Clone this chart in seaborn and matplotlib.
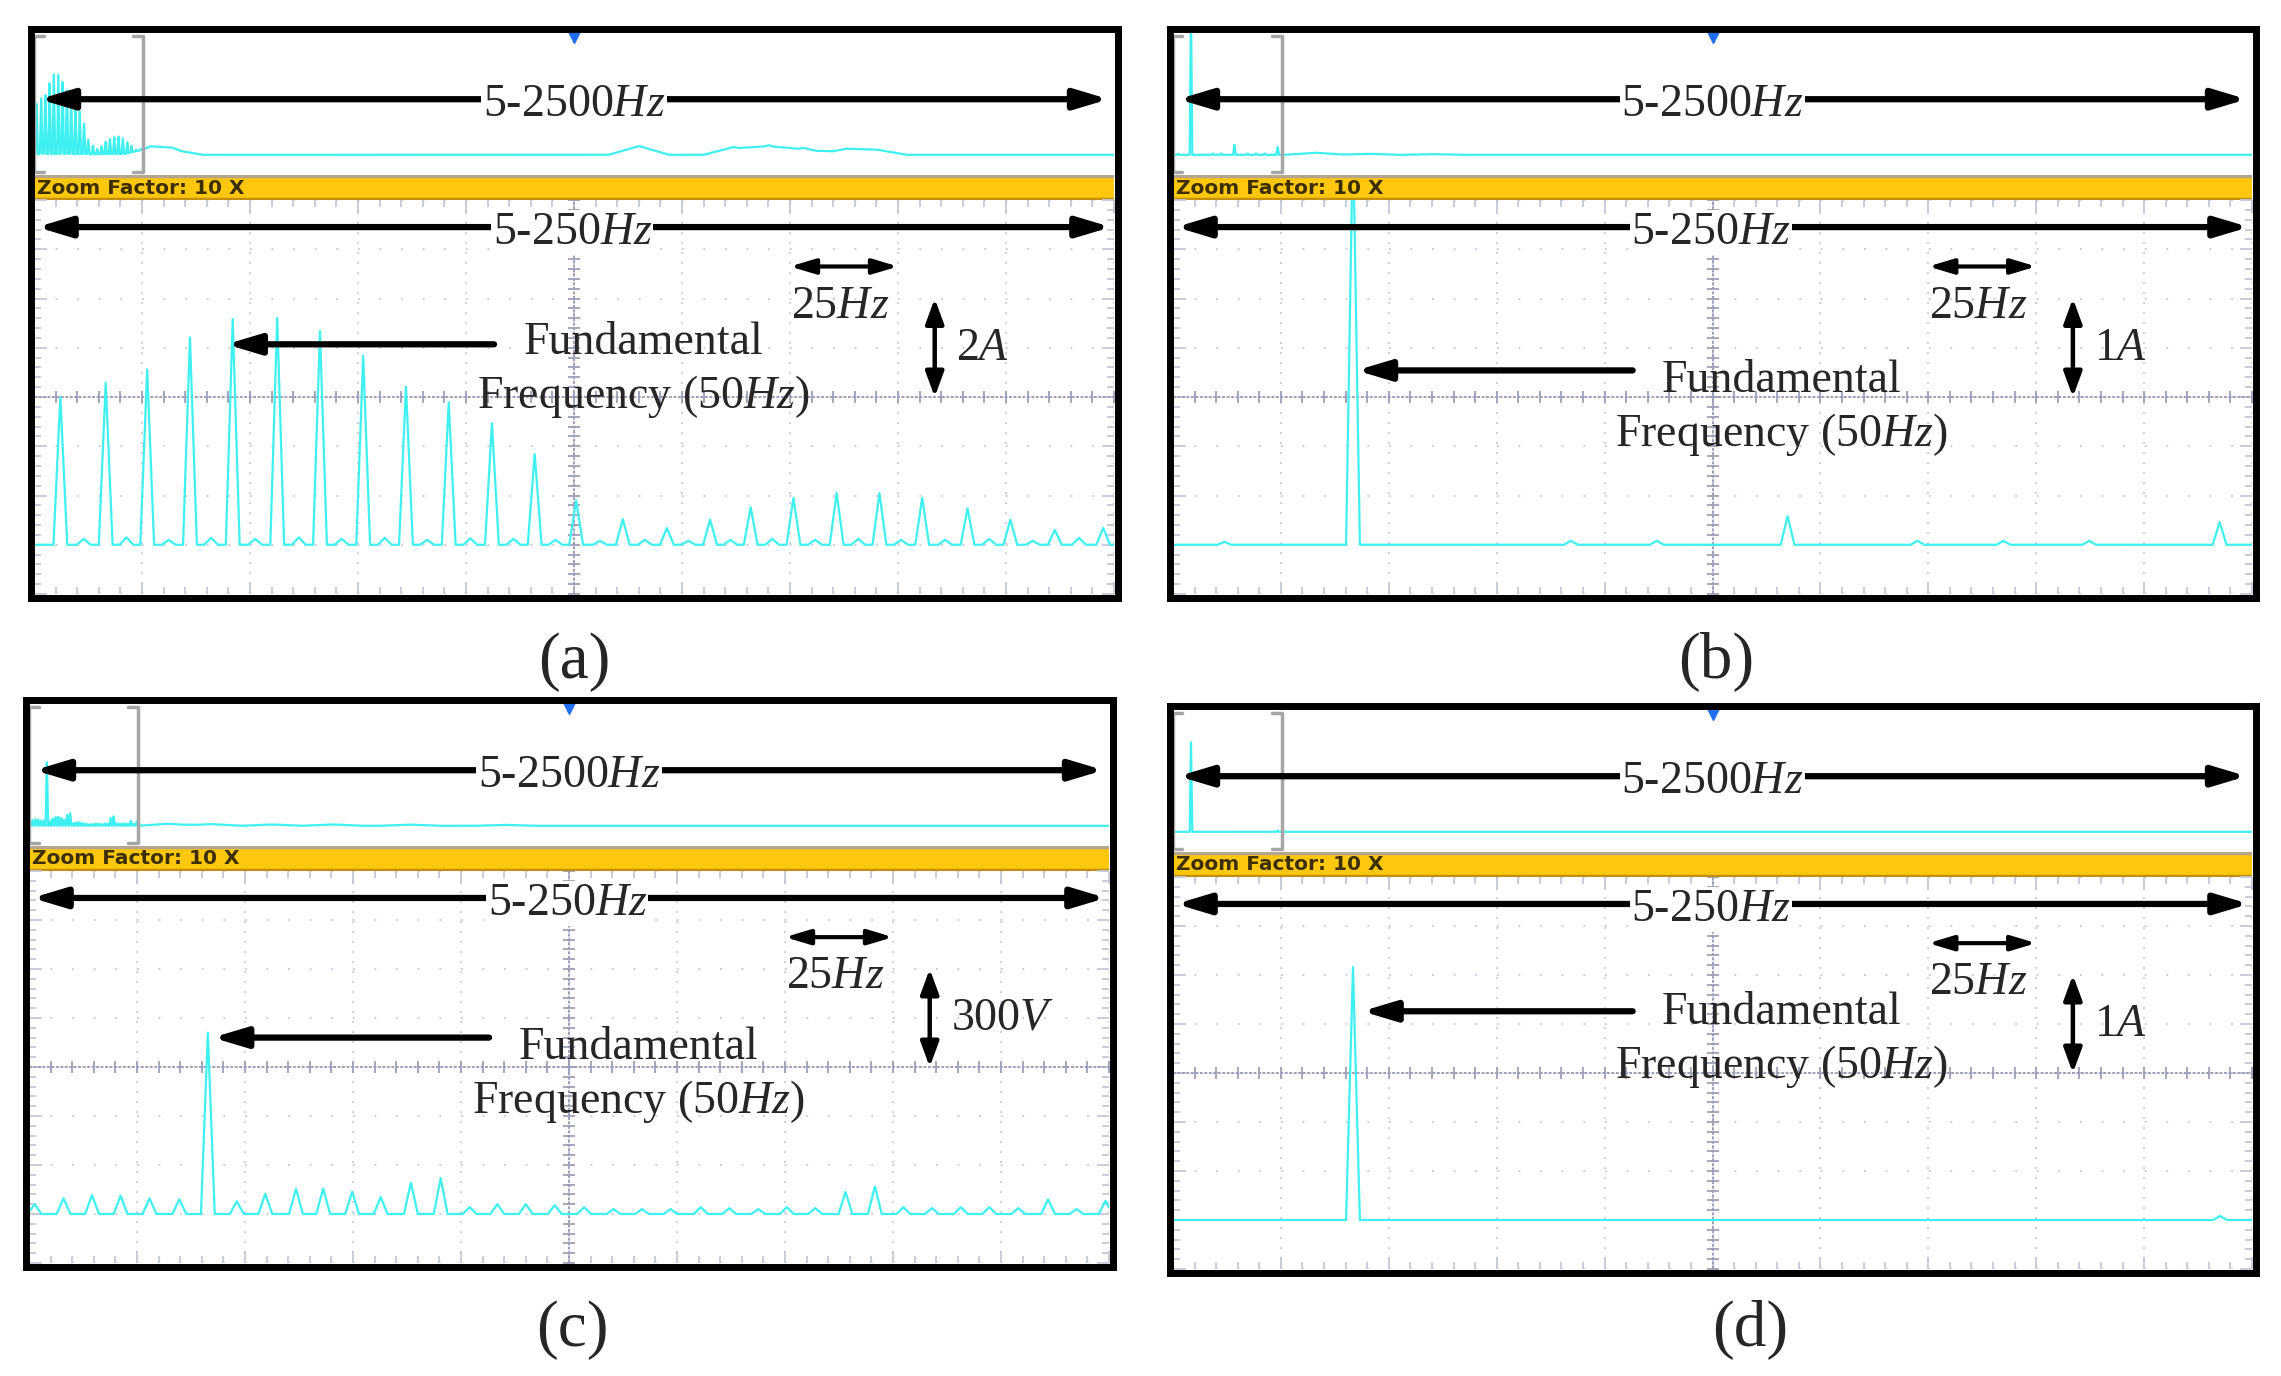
import numpy as np
import matplotlib.pyplot as plt
import matplotlib.transforms as mtransforms
from matplotlib.ticker import MultipleLocator
import seaborn as sns

# Spectrum readings from the four analyser screens.
# Zoomed window: 0-250 Hz across 10 divisions; amplitudes in the unit of each panel.
a_freqs = [6.1, 16.6, 26.2, 36.1, 46.0, 56.3, 66.2, 76.2, 86.1, 96.0, 106.0, 115.9, 125.5,
           136.3, 146.5, 156.5, 165.9, 175.8, 185.8, 195.7, 205.6, 216.1, 226.0, 236.3, 247.5]
a_amps = [3.0, 3.29, 3.56, 4.21, 4.58, 4.61, 4.34, 3.84, 3.21, 2.89, 2.47, 1.84, 0.9,
          0.52, 0.34, 0.51, 0.76, 0.95, 1.05, 1.05, 0.95, 0.74, 0.51, 0.30, 0.34]
# small bumps between the harmonics of (a)
a_minor_freqs = [11.5, 21.4, 31.2, 41.0, 51.2, 61.3, 71.2, 81.2, 91.0, 101.0, 111.0, 120.7,
                 131.0, 141.4, 151.5, 161.2, 170.9, 180.8, 190.8, 200.7, 210.9, 221.1, 231.2, 241.9]
a_minor_amps = [0.12, 0.15, 0.10, 0.14, 0.12, 0.15, 0.12, 0.14, 0.10, 0.13, 0.12, 0.10,
                0.08, 0.10, 0.08, 0.10, 0.12, 0.10, 0.12, 0.10, 0.10, 0.12, 0.08, 0.14]

b_freqs = [11.9, 41.7, 92.2, 112.1, 142.4, 172.5, 192.4, 212.3, 242.5]
b_amps = [0.03, 4.2, 0.04, 0.04, 0.29, 0.04, 0.04, 0.04, 0.23]

c_freqs = [1.3, 8.0, 14.6, 21.2, 27.9, 34.8, 41.4, 48.1, 54.7, 61.8, 68.1, 74.8, 81.4, 88.4,
           95.3, 102.0, 108.4, 115.0, 121.7, 128.5, 135.3, 141.9, 148.5, 155.5, 162.1, 168.8,
           175.4, 182.0, 189.0, 195.8, 202.4, 209.0, 215.7, 222.3, 229.0, 235.9, 242.5, 249.2]
c_amps = [30, 48, 58, 56, 48, 45, 555, 39, 62, 77, 78, 68, 52, 96,
          110, 21, 30, 30, 27, 21, 15, 15, 15, 21, 18, 15,
          21, 18, 68, 84, 21, 18, 21, 21, 18, 45, 15, 40]

d_freqs = [41.7, 242.6]
d_amps = [2.58, 0.04]

# where the "Fundamental" arrow points on each zoomed screen (Hz)
fund_arrow_tip = [44.5, 42.5, 42.5, 43.8]

# content of the 5-2500 Hz overview strips outside the zoomed window
a_ov_freqs = [270, 320, 1400, 1620, 1700, 1780, 1880, 1950]
a_ov_amps = [0.4, 0.3, 0.5, 0.45, 0.55, 0.4, 0.35, 0.3]
b_ov_freqs = [330, 450, 600]
b_ov_amps = [0.06, 0.03, 0.02]
c_ov_freqs = [320, 420, 560, 700, 880, 1100]
c_ov_amps = [18, 15, 12, 12, 10, 8]
d_ov_freqs = []
d_ov_amps = []

panel_labels = ['(a)', '(b)', '(c)', '(d)']
unit_labels = ['2$\\mathit{A}$', '1$\\mathit{A}$', '300$\\mathit{V}$', '1$\\mathit{A}$']
units_per_div = [1.0, 0.5, 150.0, 0.5]

main_f = [a_freqs + a_minor_freqs, b_freqs, c_freqs, d_freqs]
main_a = [a_amps + a_minor_amps, b_amps, c_amps, d_amps]
ov_f = [a_ov_freqs, b_ov_freqs, c_ov_freqs, d_ov_freqs]
ov_a = [a_ov_amps, b_ov_amps, c_ov_amps, d_ov_amps]

# layout (pixels): outer frame of each screen, caption centre, label heights in divisions
W, H = 2281, 1376
frames = [(27, 25, 1121, 601), (1166, 25, 2259, 601), (22, 696, 1116, 1270), (1166, 702, 2259, 1276)]
caption_xy = [(574, 662), (1716, 662), (572, 1330), (1750, 1330)]
fund_text_y = [4.22, 3.45, 3.51, 4.35]
fund_arrow_y = [4.07, 3.54, 3.60, 4.26]

CYAN = '#3ff0f0'
GRID = '#c5c7d8'
CENTER = '#9d9fba'

sns.set_style('white')
plt.rcParams['font.family'] = ['Liberation Serif', 'DejaVu Serif']
plt.rcParams['mathtext.fontset'] = 'custom'
plt.rcParams['mathtext.rm'] = 'Liberation Serif'
plt.rcParams['mathtext.it'] = 'Liberation Serif:italic'

fig = plt.figure(figsize=(W / 100, H / 100), dpi=100)
fig.patch.set_facecolor('white')


def frac(l, t, r, b):
    return [l / W, 1 - b / H, (r - l) / W, (b - t) / H]


def spectrum(grid, freqs, amps, hw, mode='max'):
    y = np.zeros_like(grid)
    for f, a in zip(freqs, amps):
        tri = a * np.clip(1 - np.abs(grid - f) / hw, 0, None)
        y = np.maximum(y, tri) if mode == 'max' else y + tri
    return y


def arrow(ax, start, end, coords='data', both=False, lw=4.5, hl=2.0, hw=0.6):
    style = ('<|-|>' if both else '-|>') + f',head_length={hl},head_width={hw}'
    ax.annotate('', xy=end, xytext=start, xycoords=coords, textcoords=coords,
                arrowprops=dict(arrowstyle=style, lw=lw, color='black', mutation_scale=10,
                                shrinkA=0, shrinkB=0), annotation_clip=False, zorder=6)


def blank(ax):
    ax.set_xticks([])
    ax.set_yticks([])
    ax.set_xlabel('')
    ax.set_ylabel('')
    for s in ax.spines.values():
        s.set_visible(False)


f_main = np.linspace(0, 250, 2501)
f_ov = np.linspace(0, 2500, 7501)

for i in range(4):
    l, t, r, b = frames[i]
    u = units_per_div[i]

    # --- overview strip (5-2500 Hz) ---
    ov = fig.add_axes(frac(l + 7, t + 7, r - 7, t + 150))
    y_ov = np.maximum(spectrum(f_ov, main_f[i], main_a[i], 3.0),
                      spectrum(f_ov, ov_f[i], ov_a[i], 70.0, mode='sum'))
    sns.lineplot(x=f_ov, y=y_ov, ax=ov, color=CYAN, lw=1.6, estimator=None, errorbar=None)
    ov.set_xlim(0, 2500)
    ov.set_ylim(-1.15 * u, 7.0 * u)
    blank(ov)
    tr = mtransforms.blended_transform_factory(ov.transData, ov.transAxes)
    ov.plot([22, 1, 1, 22], [0.972, 0.972, 0.023, 0.023], color='#a6a6a6', lw=2.5, transform=tr)
    ov.plot([230, 252, 252, 230], [0.972, 0.972, 0.023, 0.023], color='#a6a6a6', lw=2.5, transform=tr)
    ov.plot([1250], [0.965], marker='v', ms=9, color='#1f6ff0', transform=tr, clip_on=False)
    arrow(ov, (0.005, 0.53), (0.995, 0.53), 'axes fraction', both=True)
    ov_txt = mtransforms.offset_copy(ov.transAxes, fig=fig, y=-4, units='points')
    ov.text(0.5, 0.53, '5-2500$\\mathit{Hz}$', transform=ov_txt, ha='center', va='center',
            fontsize=33, zorder=7, bbox=dict(fc='white', ec='none', pad=1))

    # --- zoom factor bar ---
    bar = fig.add_axes(frac(l + 7, t + 150, r - 7, t + 175))
    bar.set_facecolor('#ffc70d')
    bar.set_xlim(0, 1)
    bar.set_ylim(0, 1)
    blank(bar)
    bar.axhline(0.96, color='#b5a58f', lw=2.5)
    bar.axhline(0.04, color='#c2900c', lw=2.5)
    bar.text(0.003, 0.48, 'Zoom Factor: 10 X', ha='left', va='center', fontsize=14.5,
             family='DejaVu Sans', weight='bold', color='#3b2f00')

    # --- zoomed window (5-250 Hz) ---
    m = fig.add_axes(frac(l + 7, t + 175, r - 7, b - 7))
    y_main = spectrum(f_main, main_f[i], main_a[i], 1.6)
    sns.lineplot(x=f_main, y=y_main, ax=m, color=CYAN, lw=1.6, estimator=None, errorbar=None, zorder=3)
    m.set_xlim(0, 250)
    m.set_ylim(-u, 7 * u)
    m.set_xlabel('')
    m.set_ylabel('')
    for s in m.spines.values():
        s.set_visible(False)
    m.xaxis.set_major_locator(MultipleLocator(25))
    m.xaxis.set_minor_locator(MultipleLocator(5))
    m.yaxis.set_major_locator(MultipleLocator(u))
    m.yaxis.set_minor_locator(MultipleLocator(u / 5))
    m.tick_params(which='both', direction='in', top=True, right=True, left=True, bottom=True,
                  labelleft=False, labelbottom=False, color=GRID, width=1.3)
    m.tick_params(which='major', length=9)
    m.tick_params(which='minor', length=5)
    m.xaxis.grid(True, which='major', color=GRID, lw=1.3, ls=(0, (1.0, 4.54)))
    m.yaxis.grid(True, which='major', color=GRID, lw=1.3, ls=(0, (1.0, 10.96)))
    m.axvline(125, color=CENTER, lw=1.4, ls=(0, (1.5, 0.8)), zorder=1)
    m.axhline(3 * u, color=CENTER, lw=1.4, ls=(0, (1.5, 0.8)), zorder=1)
    ticks_x = np.arange(0, 250.01, 5)
    ticks_y = np.arange(-u, 7 * u + 1e-9, u / 5)
    m.plot(ticks_x, np.full(len(ticks_x), 3 * u), ls='none', marker='|', ms=8, mew=1.3, color=CENTER, zorder=1)
    m.plot(np.full(len(ticks_y), 125), ticks_y, ls='none', marker='_', ms=8, mew=1.3, color=CENTER, zorder=1)

    txt = mtransforms.offset_copy(m.transData, fig=fig, y=-4, units='points')
    arrow(m, (0.7, 6.45 * u), (249.3, 6.45 * u), both=True)
    m.text(124.6, 6.45 * u, '5-250$\\mathit{Hz}$', transform=txt, ha='center', va='center',
           fontsize=33, zorder=7, bbox=dict(fc='white', ec='none', pad=1))

    arrow(m, (106.5, fund_arrow_y[i] * u), (fund_arrow_tip[i], fund_arrow_y[i] * u))
    m.text(141, fund_text_y[i] * u, 'Fundamental', transform=txt, ha='center', va='center',
           fontsize=33, zorder=7)
    m.text(141, (fund_text_y[i] - 1.1) * u, 'Frequency (50$\\mathit{Hz}$)', transform=txt,
           ha='center', va='center', fontsize=33, zorder=7)

    arrow(m, (175, 5.65 * u), (200, 5.65 * u), both=True, lw=3.0, hl=1.5, hw=0.45)
    m.text(186.5, 4.95 * u, '25$\\mathit{Hz}$', transform=txt, ha='center', va='center',
           fontsize=33, zorder=7)
    arrow(m, (208.5, 3.0 * u), (208.5, 5.0 * u), both=True, lw=3.2, hl=1.5, hw=0.55)
    m.text(213.5, 4.1 * u, unit_labels[i], transform=txt, ha='left', va='center',
           fontsize=33, zorder=7)

    # --- outer black frame ---
    fa = fig.add_axes(frac(l + 3.5, t + 3.5, r - 3.5, b - 3.5), zorder=10)
    fa.patch.set_alpha(0)
    fa.set_xticks([])
    fa.set_yticks([])
    for s in fa.spines.values():
        s.set_visible(True)
        s.set_linewidth(5)
        s.set_color('black')

    cx, cy = caption_xy[i]
    fig.text(cx / W, 1 - cy / H, panel_labels[i], ha='center', va='center', fontsize=47)

fig.savefig('out.png', dpi=100, facecolor='white')
